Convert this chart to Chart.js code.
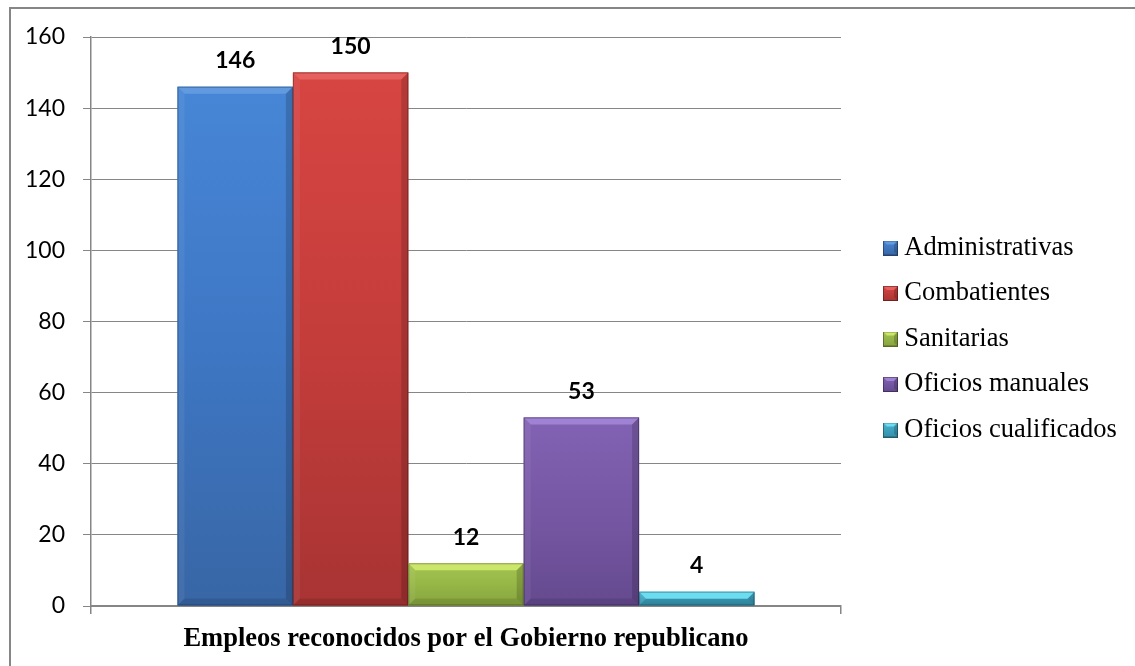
<!DOCTYPE html>
<html>
<head>
<meta charset="utf-8">
<script src="https://cdn.jsdelivr.net/npm/chart.js@4/dist/chart.umd.min.js"></script>
<style>
  html, body { margin: 0; padding: 0; background: #fff; overflow: hidden; }
  #wrap { width: 1135px; height: 666px; }
</style>
</head>
<body>
<div id="wrap"><canvas id="c" width="1135" height="666"></canvas></div>
<script>
// ---- data ----
const categories = ['Empleos reconocidos por el Gobierno republicano'];
const seriesNames = ['Administrativas', 'Combatientes', 'Sanitarias', 'Oficios manuales', 'Oficios cualificados'];
const seriesValues = [146, 150, 12, 53, 4];
const yTicks = [0, 20, 40, 60, 80, 100, 120, 140, 160];

// ---- styling ----
const bodyTop    = ['#4786d6', '#d74542', '#a4c450', '#8262b3', '#47b3d1'];
const bodyMid    = ['#3e77c4', '#c43d3b', '#96b647', '#7657a4', '#3da2be'];
const bodyBottom = ['#3866a5', '#a83433', '#86a43e', '#654a8f', '#358fa8'];
const highlight  = ['#629ae0', '#e6605d', '#cbe66a', '#9f82d3', '#6cdcf0'];
const GRID = '#868686';
const SERIF = '"Liberation Serif", "Times New Roman", serif';
const LEGEND_WIDTH = 294;
const LEGEND_INSET = 30;
const LEGEND_TOP = 215.75;
const BEVEL = 7;

// small bevelled legend keys
function legendKey(i) {
  const s = 15, c = document.createElement('canvas');
  c.width = s; c.height = s;
  const g = c.getContext('2d');
  const gr = g.createLinearGradient(0, 0, 0, s);
  gr.addColorStop(0, bodyTop[i]); gr.addColorStop(1, bodyBottom[i]);
  g.fillStyle = gr; g.fillRect(0, 0, s, s);
  g.fillStyle = highlight[i];
  g.beginPath(); g.moveTo(0, 0); g.lineTo(s, 0); g.lineTo(s - 4, 4); g.lineTo(4, 4); g.closePath(); g.fill();
  g.fillStyle = 'rgba(0,0,0,0.18)';
  g.beginPath(); g.moveTo(s, 0); g.lineTo(s, s); g.lineTo(s - 4, s - 4); g.lineTo(s - 4, 4); g.closePath(); g.fill();
  g.strokeStyle = 'rgba(0,0,0,0.35)'; g.lineWidth = 1; g.strokeRect(0.5, 0.5, s - 1, s - 1);
  return c;
}
const keys = seriesNames.map((_, i) => legendKey(i));

// page background and outer frame
const frame = {
  id: 'frame',
  beforeDraw(chart) {
    const ctx = chart.ctx;
    ctx.save();
    ctx.fillStyle = '#fff';
    ctx.fillRect(0, 0, chart.width, chart.height);
    ctx.strokeStyle = GRID;
    ctx.lineWidth = 2;
    ctx.strokeRect(10, 8, chart.width + 20, chart.height + 20);
    ctx.restore();
  }
};

// legend sits in a fixed-width column to the right of the plot
const legendPlace = {
  id: 'legendPlace',
  beforeLayout(chart) {
    const lg = chart.legend;
    if (lg && !lg.__sized) {
      const proto = Object.getPrototypeOf(lg);
      lg.fit = function () { proto.fit.call(this); this.width = LEGEND_WIDTH; };
      lg.__sized = true;
    }
  },
  afterLayout(chart) {
    const lg = chart.legend;
    lg.left = chart.chartArea.right + LEGEND_INSET;
    lg.right = chart.width;
    lg.top = LEGEND_TOP;
    lg.bottom = chart.height;
  }
};

// gradient body plus bevelled edges on every bar
const barFinish = {
  id: 'barFinish',
  afterDatasetsDraw(chart) {
    const ctx = chart.ctx;
    chart.data.datasets.forEach((ds, i) => {
      const meta = chart.getDatasetMeta(i);
      if (meta.hidden) return;
      meta.data.forEach(bar => {
        const p = bar.getProps(['x', 'y', 'base', 'width'], true);
        const L = p.x - p.width / 2, R = p.x + p.width / 2;
        const T = Math.min(p.y, p.base), B = Math.max(p.y, p.base);
        const b = Math.min(BEVEL, (B - T) / 2);
        ctx.save();
        const gr = ctx.createLinearGradient(0, T, 0, B);
        gr.addColorStop(0, bodyTop[i]);
        gr.addColorStop(0.5, bodyMid[i]);
        gr.addColorStop(1, bodyBottom[i]);
        ctx.fillStyle = gr;
        ctx.fillRect(L, T, R - L, B - T);
        // top highlight
        ctx.fillStyle = highlight[i];
        ctx.beginPath();
        ctx.moveTo(L, T); ctx.lineTo(R, T); ctx.lineTo(R - b, T + b); ctx.lineTo(L + b, T + b);
        ctx.closePath(); ctx.fill();
        // left light edge
        ctx.fillStyle = 'rgba(255,255,255,0.06)';
        ctx.beginPath();
        ctx.moveTo(L, T); ctx.lineTo(L + b, T + b); ctx.lineTo(L + b, B - b); ctx.lineTo(L, B);
        ctx.closePath(); ctx.fill();
        // right shaded edge
        ctx.fillStyle = 'rgba(0,0,0,0.16)';
        ctx.beginPath();
        ctx.moveTo(R, T); ctx.lineTo(R - b, T + b); ctx.lineTo(R - b, B - b); ctx.lineTo(R, B);
        ctx.closePath(); ctx.fill();
        // bottom shaded edge
        ctx.fillStyle = 'rgba(0,0,0,0.1)';
        ctx.beginPath();
        ctx.moveTo(L, B); ctx.lineTo(L + b, B - b); ctx.lineTo(R - b, B - b); ctx.lineTo(R, B);
        ctx.closePath(); ctx.fill();
        // outline
        ctx.strokeStyle = 'rgba(0,0,0,0.28)';
        ctx.lineWidth = 1;
        ctx.strokeRect(L + 0.5, T + 0.5, R - L - 1, B - T - 1);
        ctx.restore();
      });
    });
  }
};

// value labels above each bar
const valueLabels = {
  id: 'valueLabels',
  afterDatasetsDraw(chart) {
    const ctx = chart.ctx;
    ctx.save();
    ctx.font = 'bold 23px Lato';
    ctx.fillStyle = '#000';
    ctx.textAlign = 'center';
    ctx.textBaseline = 'middle';
    chart.data.datasets.forEach((ds, i) => {
      const meta = chart.getDatasetMeta(i);
      meta.data.forEach((bar, j) => {
        const p = bar.getProps(['x', 'y'], true);
        ctx.fillText(String(ds.data[j]), p.x, p.y - 26);
      });
    });
    ctx.restore();
  }
};

const datasets = seriesNames.map((name, i) => ({
  label: name,
  data: [seriesValues[i]],
  backgroundColor: bodyMid[i],
  borderWidth: 0
}));

new Chart(document.getElementById('c'), {
  type: 'bar',
  data: { labels: categories, datasets },
  plugins: [frame, legendPlace, barFinish, valueLabels],
  options: {
    responsive: false,
    animation: false,
    devicePixelRatio: 1,
    layout: { padding: { top: 37, right: 0, bottom: 0, left: 0 } },
    datasets: { bar: { categoryPercentage: 0.7693, barPercentage: 1 } },
    scales: {
      x: {
        grid: { display: true, drawOnChartArea: false, drawTicks: true, tickLength: 8, color: GRID, tickColor: GRID, lineWidth: 1.5 },
        border: { display: true, color: GRID, width: 2 },
        ticks: {
          color: '#000',
          font: { family: SERIF, size: 26.5, weight: 'bold' },
          padding: 9,
          maxRotation: 0,
          autoSkip: false
        },
        afterFit(scale) { scale.height = 60; }
      },
      y: {
        min: yTicks[0],
        max: yTicks[yTicks.length - 1],
        afterBuildTicks(scale) { scale.ticks = yTicks.map(v => ({ value: v })); },
        grid: { color: GRID, tickColor: GRID, lineWidth: 1, drawTicks: true, tickLength: 8 },
        border: { display: true, color: GRID, width: 1.5 },
        ticks: {
          color: '#000',
          font: { family: 'Lato', size: 23 },
          padding: 18
        },
        afterFit(scale) { scale.width = 91; }
      }
    },
    plugins: {
      tooltip: { enabled: false },
      legend: {
        display: true,
        position: 'right',
        align: 'start',
        labels: {
          color: '#000',
          font: { family: SERIF, size: 26.5 },
          usePointStyle: true,
          pointStyleWidth: 1,
          padding: 19,
          generateLabels(chart) {
            const items = Chart.defaults.plugins.legend.labels.generateLabels(chart);
            items.forEach(it => { it.pointStyle = keys[it.datasetIndex]; it.fontColor = '#000'; });
            return items;
          }
        }
      }
    }
  }
});
</script>
</body>
</html>
